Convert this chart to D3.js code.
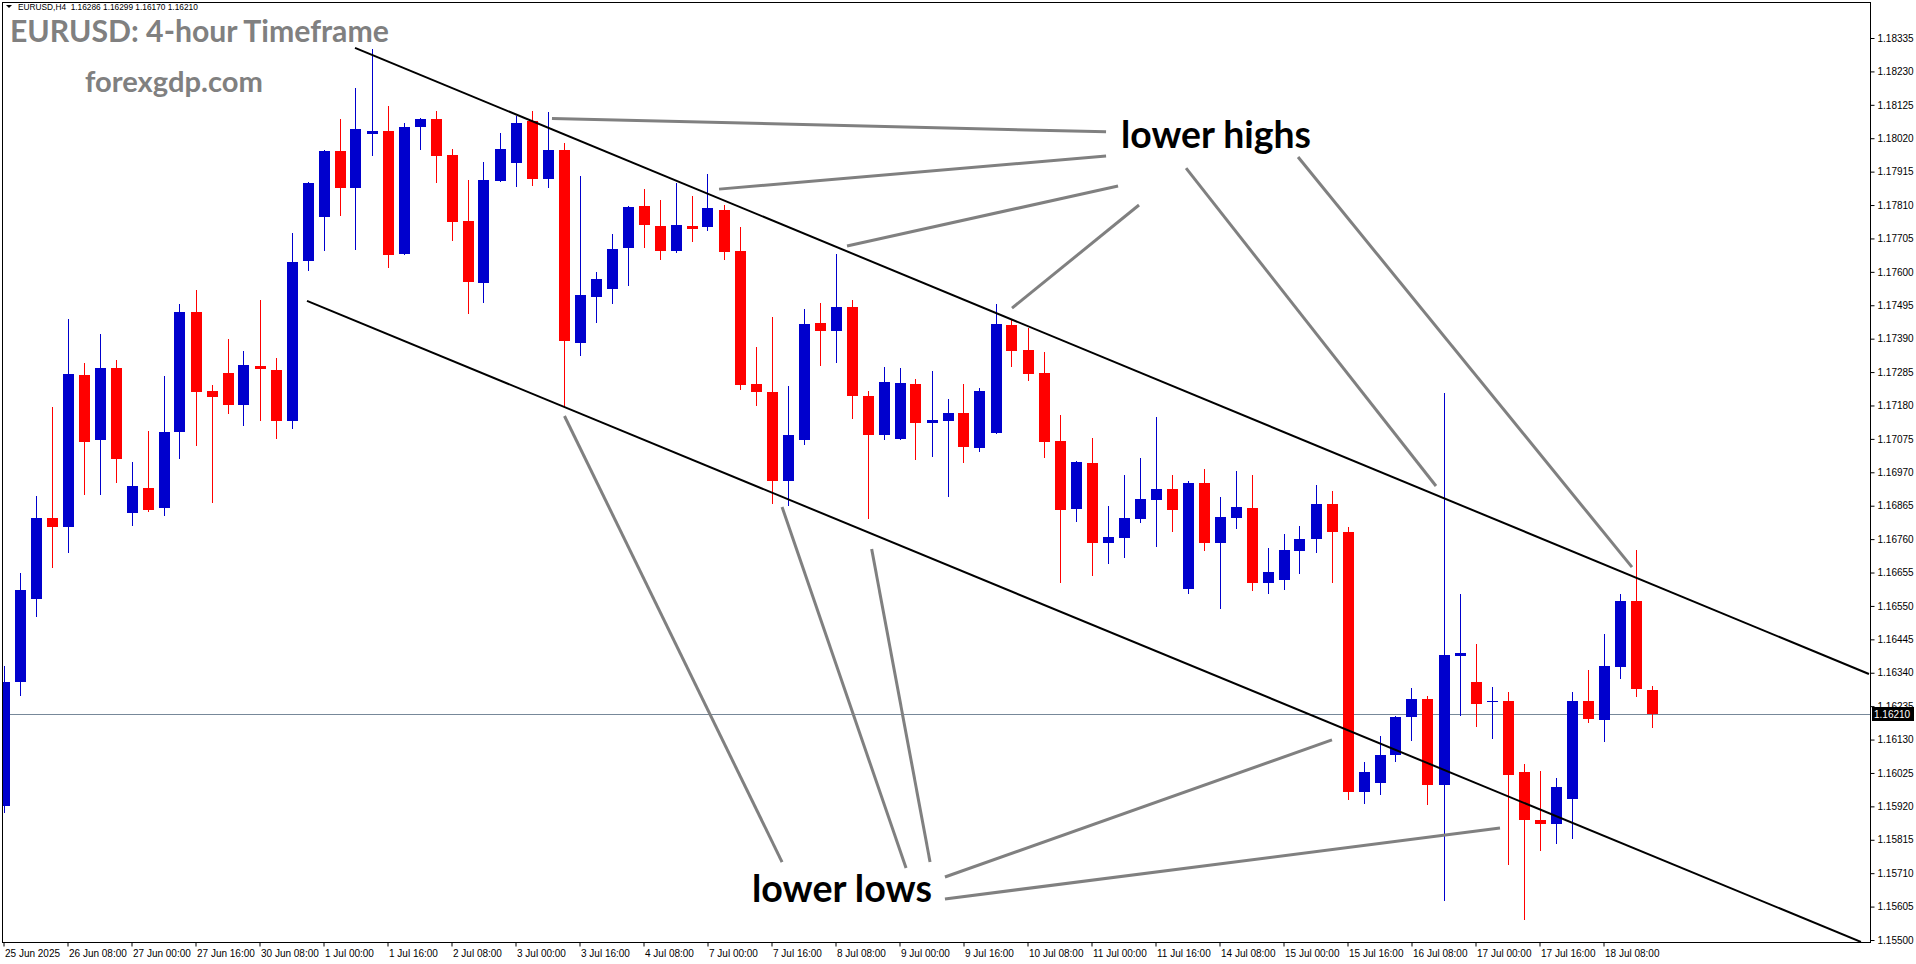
<!DOCTYPE html>
<html><head><meta charset="utf-8">
<script src="https://cdn.jsdelivr.net/npm/d3@7"></script>
<style>
html,body{margin:0;padding:0;background:#fff;overflow:hidden}
svg{display:block}
</style></head><body>
<svg id="chart" width="1916" height="964"></svg>
<script>
// ---- data (EURUSD H4, one entry per bar, oldest first) ----
const openP = [1.15921,1.16312,1.16572,1.16826,1.16799,1.17276,1.17072,1.17298,1.16843,1.16921,
1.16859,1.17097,1.17474,1.17225,1.17282,1.17182,1.17304,1.17292,1.17132,1.17635,
1.17773,1.17980,1.17865,1.18034,1.18043,1.17657,1.18056,1.18080,1.17967,1.17760,
1.17566,1.17886,1.17943,1.18074,1.17893,1.17983,1.17377,1.17522,1.17547,1.17676,
1.17807,1.17744,1.17667,1.17744,1.17742,1.17794,1.17666,1.17248,1.17223,1.16944,
1.17072,1.17439,1.17415,1.17490,1.17211,1.17088,1.17076,1.17248,1.17126,1.17132,
1.17157,1.17047,1.17094,1.17433,1.17354,1.17282,1.17068,1.16856,1.16999,1.16749,
1.16764,1.16824,1.16884,1.16917,1.16604,1.16936,1.16749,1.16827,1.16858,1.16623,
1.16632,1.16724,1.16759,1.16870,1.16782,1.15964,1.15995,1.16082,1.16202,1.16256,
1.15988,1.16394,1.16311,1.16250,1.16250,1.16027,1.15878,1.15866,1.15944,1.16250,
1.16192,1.16358,1.16567,1.16286];
const highP = [1.16362,1.16654,1.16896,1.17176,1.17452,1.17314,1.17405,1.17323,1.17002,1.17100,
1.17273,1.17499,1.17543,1.17244,1.17389,1.17351,1.17512,1.17329,1.17722,1.17882,
1.17983,1.18080,1.18178,1.18300,1.18121,1.18068,1.18084,1.18106,1.17986,1.17889,
1.17945,1.18036,1.18090,1.18106,1.18102,1.18005,1.17901,1.17600,1.17719,1.17807,
1.17860,1.17826,1.17879,1.17838,1.17908,1.17810,1.17741,1.17365,1.17459,1.17242,
1.17483,1.17502,1.17656,1.17512,1.17226,1.17302,1.17299,1.17264,1.17289,1.17201,
1.17248,1.17235,1.17499,1.17449,1.17424,1.17348,1.17150,1.17005,1.17078,1.16865,
1.16961,1.17015,1.17144,1.16961,1.16943,1.16980,1.16892,1.16974,1.16961,1.16733,
1.16777,1.16802,1.16930,1.16912,1.16799,1.16059,1.16140,1.16204,1.16292,1.16268,
1.17219,1.16589,1.16430,1.16294,1.16278,1.16053,1.16032,1.16009,1.16281,1.16348,
1.16461,1.16589,1.16725,1.16299];
const lowP = [1.15902,1.16270,1.16519,1.16673,1.16720,1.16903,1.16903,1.16940,1.16805,1.16848,
1.16837,1.17016,1.17057,1.16878,1.17157,1.17120,1.17135,1.17079,1.17110,1.17606,
1.17670,1.17780,1.17673,1.17968,1.17616,1.17656,1.17987,1.17883,1.17701,1.17472,
1.17506,1.17884,1.17871,1.17874,1.17868,1.17176,1.17340,1.17443,1.17503,1.17560,
1.17679,1.17641,1.17663,1.17698,1.17732,1.17641,1.17233,1.17182,1.16874,1.16868,
1.17060,1.17308,1.17318,1.17142,1.16827,1.17076,1.17076,1.17013,1.17022,1.16896,
1.17003,1.17038,1.17093,1.17305,1.17261,1.17019,1.16626,1.16818,1.16648,1.16686,
1.16705,1.16815,1.16739,1.16786,1.16592,1.16727,1.16544,1.16796,1.16601,1.16592,
1.16604,1.16654,1.16721,1.16625,1.15943,1.15932,1.15960,1.16064,1.16130,1.15926,
1.15627,1.16208,1.16174,1.16135,1.15738,1.15566,1.15784,1.15804,1.15822,1.16186,
1.16124,1.16324,1.16268,1.16170];
const closeP = [1.16312,1.16600,1.16826,1.16799,1.17279,1.17066,1.17298,1.17013,1.16927,1.16852,
1.17097,1.17474,1.17223,1.17208,1.17182,1.17307,1.17295,1.17132,1.17631,1.17879,
1.17980,1.17865,1.18049,1.18043,1.17654,1.18055,1.18080,1.17965,1.17758,1.17569,
1.17889,1.17986,1.18068,1.17893,1.17983,1.17384,1.17527,1.17578,1.17672,1.17804,
1.17748,1.17667,1.17747,1.17736,1.17801,1.17663,1.17245,1.17223,1.16944,1.17087,
1.17436,1.17415,1.17490,1.17211,1.17088,1.17255,1.17252,1.17126,1.17135,1.17157,
1.17050,1.17225,1.17436,1.17352,1.17280,1.17066,1.16852,1.17002,1.16749,1.16767,
1.16826,1.16886,1.16917,1.16852,1.16936,1.16749,1.16830,1.16861,1.16623,1.16657,
1.16726,1.16760,1.16870,1.16781,1.15964,1.16027,1.16083,1.16202,1.16256,1.15988,
1.16395,1.16403,1.16242,1.16252,1.16019,1.15876,1.15866,1.15981,1.16250,1.16196,
1.16360,1.16567,1.16290,1.16210];

const dateLabels = ["25 Jun 2025","26 Jun 08:00","27 Jun 00:00","27 Jun 16:00","30 Jun 08:00",
"1 Jul 00:00","1 Jul 16:00","2 Jul 08:00","3 Jul 00:00","3 Jul 16:00","4 Jul 08:00",
"7 Jul 00:00","7 Jul 16:00","8 Jul 08:00","9 Jul 00:00","9 Jul 16:00","10 Jul 08:00",
"11 Jul 00:00","11 Jul 16:00","14 Jul 08:00","15 Jul 00:00","15 Jul 16:00","16 Jul 08:00",
"17 Jul 00:00","17 Jul 16:00","18 Jul 08:00"];
const dateLabelBars = [0,4,8,12,16,20,24,28,32,36,40,44,48,52,56,60,64,68,72,76,80,84,88,92,96,100];

const priceTicks = [1.18335,1.18230,1.18125,1.18020,1.17915,1.17810,1.17705,1.17600,1.17495,1.17390,
1.17285,1.17180,1.17075,1.16970,1.16865,1.16760,1.16655,1.16550,1.16445,1.16340,
1.16235,1.16130,1.16025,1.15920,1.15815,1.15710,1.15605,1.15500];

const lastPrice = 1.16210;
const headerText = "EURUSD,H4  1.16286 1.16299 1.16170 1.16210";

// trend channel anchors: [bar index, price]
const channelUpper = [[21.97,1.18304],[116.59,1.16336]];
const channelLower = [[18.97,1.17509],[116.09,1.15494]];

// annotation pointer lines: [bar index, price] pairs
const highPointers = [
  [[34.28,1.18082],[68.91,1.18040]],
  [[44.72,1.17860],[68.91,1.17964]],
  [[52.72,1.17681],[69.66,1.17870]],
  [[63.03,1.17486],[70.97,1.17810]],
  [[73.91,1.17926],[89.53,1.16927]],
  [[80.91,1.17961],[101.78,1.16672]]
];
const lowPointers = [
  [[35.06,1.17147],[48.66,1.15745]],
  [[48.66,1.16861],[56.41,1.15726]],
  [[54.26,1.16729],[57.91,1.15745]],
  [[83.03,1.16129],[58.84,1.15698]],
  [[93.53,1.15852],[58.84,1.15629]]
];

// ---- drawing ----
const W = 1916, H = 964;
const plot = {left: 2, right: 1870, top: 2, bottom: 942};
const svg = d3.select("#chart");

const x = d3.scaleLinear().domain([0, 103]).range([3.5, 3.5 + 16 * 103]);
const y = d3.scaleLinear().domain([1.15500, 1.18335]).range([940, 38]);

svg.append("rect").attr("width", W).attr("height", H).attr("fill", "#fff");

svg.append("defs").append("clipPath").attr("id", "plotClip")
  .append("rect").attr("x", plot.left + 1).attr("y", plot.top + 1)
  .attr("width", plot.right - plot.left - 1).attr("height", plot.bottom - plot.top - 1);

const g = svg.append("g").attr("clip-path", "url(#plotClip)");

// current price line
g.append("line")
  .attr("x1", plot.left).attr("x2", plot.right)
  .attr("y1", Math.round(y(lastPrice)) + 0.5).attr("y2", Math.round(y(lastPrice)) + 0.5)
  .attr("stroke", "#778899").attr("stroke-width", 1);

const bars = d3.range(openP.length).map(i => ({i, o: openP[i], h: highP[i], l: lowP[i], c: closeP[i]}));
const col = d => d.c >= d.o ? "#0000cd" : "#ff0000";

const cg = g.append("g");
cg.selectAll("line.wick").data(bars).join("line").attr("class", "wick")
  .attr("x1", d => Math.round(x(d.i)) + 0.5).attr("x2", d => Math.round(x(d.i)) + 0.5)
  .attr("y1", d => Math.round(y(d.h))).attr("y2", d => Math.round(y(d.l)) + 1)
  .attr("stroke", col).attr("stroke-width", 1);
cg.selectAll("rect.body").data(bars).join("rect").attr("class", "body")
  .attr("x", d => Math.round(x(d.i)) - 5).attr("width", 11)
  .attr("y", d => Math.round(y(Math.max(d.o, d.c))))
  .attr("height", d => Math.max(1, Math.round(y(Math.min(d.o, d.c))) - Math.round(y(Math.max(d.o, d.c)))))
  .attr("fill", col);

// channel lines
const lineGen = d3.line().x(d => x(d[0])).y(d => y(d[1]));
[channelUpper, channelLower].forEach(pts => {
  g.append("path").attr("d", lineGen(pts)).attr("fill", "none")
    .attr("stroke", "#000").attr("stroke-width", 2);
});

// pointer lines
highPointers.concat(lowPointers).forEach(pts => {
  g.append("path").attr("d", lineGen(pts)).attr("fill", "none")
    .attr("stroke", "#808080").attr("stroke-width", 3);
});

// frame
svg.append("rect").attr("x", plot.left + 0.5).attr("y", plot.top + 0.5)
  .attr("width", plot.right - plot.left).attr("height", plot.bottom - plot.top)
  .attr("fill", "none").attr("stroke", "#000").attr("stroke-width", 1);

// right price axis
const yAxis = d3.axisRight(y).tickValues(priceTicks).tickFormat(d3.format(".5f"))
  .tickSize(4).tickPadding(3);
const ya = svg.append("g").attr("transform", `translate(${plot.right + 0.5},0)`).call(yAxis);
ya.select(".domain").remove();
ya.selectAll("text").attr("font-family", "'Liberation Sans', Arial, sans-serif").attr("font-size", 10).attr("fill", "#000");
ya.selectAll("line").attr("stroke", "#000");

// bottom time axis
const xAxis = d3.axisBottom(x).tickValues(dateLabelBars)
  .tickFormat((d, i) => dateLabels[i]).tickSize(4).tickPadding(3);
const xa = svg.append("g").attr("transform", `translate(0,${plot.bottom + 0.5})`).call(xAxis);
xa.select(".domain").remove();
xa.selectAll("text").attr("font-family", "'Liberation Sans', Arial, sans-serif").attr("font-size", 10)
  .attr("fill", "#000").attr("text-anchor", "start").attr("x", 1);
xa.selectAll("line").attr("stroke", "#000");

// last price box
const ly = y(lastPrice);
svg.append("rect").attr("x", plot.right + 2).attr("y", Math.round(ly) - 7)
  .attr("width", 42).attr("height", 14).attr("fill", "#000");
svg.append("text").attr("x", plot.right + 4).attr("y", Math.round(ly) + 4)
  .attr("font-family", "'Liberation Sans', Arial, sans-serif").attr("font-size", 10)
  .attr("fill", "#fff").text(d3.format(".5f")(lastPrice));

// texts
function fitText(sel, w) {
  const len = sel.node().getComputedTextLength();
  const fs = parseFloat(sel.attr("font-size"));
  if (len > 0) sel.attr("font-size", fs * w / len);
  return sel;
}

const bold = "Lato, 'Open Sans', sans-serif";
const title = fitText(svg.append("text").attr("x", 10).attr("y", 42).attr("font-family", bold)
  .attr("font-weight", 700).attr("font-size", 30).attr("fill", "#808080")
  .text("EURUSD: 4-hour Timeframe"), 379);
fitText(svg.append("text").attr("x", 85).attr("y", 92).attr("font-family", bold)
  .attr("font-weight", 700).attr("font-size", 27).attr("fill", "#808080")
  .text("forexgdp.com"), 178);
fitText(svg.append("text").attr("x", 1121).attr("y", 148).attr("font-family", bold)
  .attr("font-weight", 700).attr("font-size", 36).attr("fill", "#000")
  .text("lower highs"), 190);
fitText(svg.append("text").attr("x", 752).attr("y", 902).attr("font-family", bold)
  .attr("font-weight", 700).attr("font-size", 36).attr("fill", "#000")
  .text("lower lows"), 180);

// header (kept clear of the title's box)
const header = fitText(svg.append("text").attr("x", 18).attr("y", 14)
  .attr("font-family", "'Liberation Sans', Arial, sans-serif").attr("font-size", 10)
  .attr("fill", "#000").attr("xml:space", "preserve").style("white-space", "pre").text(headerText), 200);
const tb = title.node().getBBox();
let hb = header.node().getBBox();
const desc = hb.y + hb.height - 14;
let hy = Math.min(14, tb.y - desc - 0.5);
if (hy < 11) {
  // shrink header a little instead of pushing it off the top
  header.attr("font-size", parseFloat(header.attr("font-size")) * 0.9);
  hb = header.node().getBBox();
  const d2 = hb.y + hb.height - 14;
  hy = Math.max(10, tb.y - d2 - 0.5);
}
header.attr("y", hy);
svg.append("path").attr("d", `M6,${hy - 5} L12,${hy - 5} L9,${hy - 2} Z`).attr("fill", "#000");
</script>
</body></html>
